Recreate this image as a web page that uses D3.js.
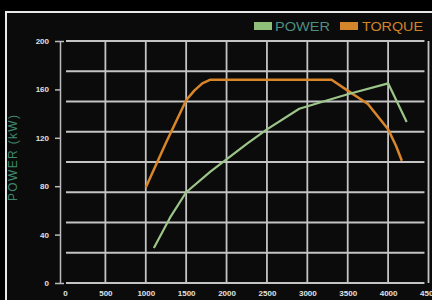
<!DOCTYPE html>
<html>
<head>
<meta charset="utf-8">
<script src="https://cdn.jsdelivr.net/npm/d3@7"></script>
<style>
  body { margin: 0; background: #000; }
  svg { display: block; }
  text { font-family: "Liberation Sans", Arial, sans-serif; }
</style>
</head>
<body>
<svg id="drawing_region"></svg>
<script>
// rpm ticks / value ticks
const xTicks = [0, 500, 1000, 1500, 2000, 2500, 3000, 3500, 4000, 4500];
const yTicks = [0, 40, 80, 120, 160, 200];
const gridY = [0, 25, 50, 75, 100, 125, 150, 175, 200];

// power curve (kW)
const powerRpm = [1100, 1300, 1500, 1800, 2250, 2500, 2900, 3250, 3500, 4000, 4230];
const powerVal = [29, 54, 75, 92, 115, 127, 144, 151, 156, 165, 133];

// torque curve (drawn on same scale)
const torqueRpm = [1000, 1250, 1500, 1600, 1700, 1800, 3300, 3500, 3750, 4000, 4100, 4170];
const torqueVal = [79, 116, 151, 159, 165, 168, 168, 159, 148, 127, 113, 101];

const legendNames = ['POWER', 'TORQUE'];

var config = {
    parent: '#drawing_region',
    width: 432,
    height: 300
};

const svg = d3.select(config.parent)
    .attr('width', config.width)
    .attr('height', config.height);

// outer frame
svg.append('rect')
    .attr('x', 6).attr('y', 12)
    .attr('width', 440).attr('height', 300)
    .attr('fill', '#0b0b0b')
    .attr('stroke', '#e8e8e8')
    .attr('stroke-width', 2);

const xscale = d3.scaleLinear().domain([0, 4500]).range([65, 428.5]);
const yscale = d3.scaleLinear().domain([0, 200]).range([283, 41]);

// grid
svg.append('g').selectAll('line').data(gridY).join('line')
    .attr('x1', xscale(0) + 1).attr('x2', xscale(4450))
    .attr('y1', d => yscale(d)).attr('y2', d => yscale(d))
    .attr('stroke', '#c4c4c4').attr('stroke-width', 1.8);

svg.append('g').selectAll('line').data(xTicks.slice(1)).join('line')
    .attr('x1', d => xscale(d)).attr('x2', d => xscale(d))
    .attr('y1', yscale(200)).attr('y2', yscale(0))
    .attr('stroke', '#c4c4c4').attr('stroke-width', 1.8);

// y axis
const yaxis = d3.axisLeft(yscale)
    .tickValues(yTicks)
    .tickFormat(d3.format('d'))
    .tickSize(5)
    .tickSizeOuter(-4)
    .tickPadding(6);

const yaxis_group = svg.append('g')
    .attr('transform', 'translate(60,0)')
    .call(yaxis);
yaxis_group.select('.domain').attr('stroke', '#bbb').attr('stroke-width', 1.5);
yaxis_group.selectAll('.tick line').attr('stroke', '#bbb').attr('stroke-width', 1.5);
yaxis_group.selectAll('text').attr('fill', '#e0e0e0').attr('font-size', 8).attr('font-weight', 'bold');

// x axis
const xaxis = d3.axisBottom(xscale)
    .tickValues(xTicks)
    .tickFormat(d3.format('d'))
    .tickSize(0)
    .tickPadding(7);

const xaxis_group = svg.append('g')
    .attr('transform', `translate(0,${yscale(0)})`)
    .call(xaxis);
xaxis_group.select('.domain').remove();
xaxis_group.selectAll('text').attr('fill', '#e0e0e0').attr('font-size', 8).attr('font-weight', 'bold');

// axis title
svg.append('text')
    .attr('transform', 'translate(17,158) rotate(-90)')
    .attr('text-anchor', 'middle')
    .attr('font-size', 12)
    .attr('textLength', 86)
    .attr('fill', '#3d8a6c')
    .text('POWER (kW)');

// lines
const line = d3.line()
    .x(d => xscale(d[0]))
    .y(d => yscale(d[1]));

svg.append('path')
    .datum(torqueRpm.map((r, i) => [r, torqueVal[i]]))
    .attr('d', line)
    .attr('fill', 'none')
    .attr('stroke', '#d9862a')
    .attr('stroke-width', 2.5)
    .attr('stroke-linejoin', 'round');

svg.append('path')
    .datum(powerRpm.map((r, i) => [r, powerVal[i]]))
    .attr('d', line)
    .attr('fill', 'none')
    .attr('stroke', '#9cc58a')
    .attr('stroke-width', 2.2)
    .attr('stroke-linejoin', 'round');

// legend
const legend = [
    { name: legendNames[0], sw: '#8fc07a', tc: '#4f8f80', x: 254, len: 55 },
    { name: legendNames[1], sw: '#d4862c', tc: '#d08628', x: 340, len: 61 }
];
const lg = svg.append('g').selectAll('g').data(legend).join('g')
    .attr('transform', d => `translate(${d.x},0)`);
lg.append('rect')
    .attr('x', 0).attr('y', 22).attr('width', 18).attr('height', 8)
    .attr('fill', d => d.sw);
lg.append('text')
    .attr('x', d => d.name === 'POWER' ? 21 : 22)
    .attr('y', 31)
    .attr('font-size', 13)
    .attr('textLength', d => d.len)
    .attr('lengthAdjust', 'spacingAndGlyphs')
    .attr('fill', d => d.tc)
    .text(d => d.name);
</script>
</body>
</html>
